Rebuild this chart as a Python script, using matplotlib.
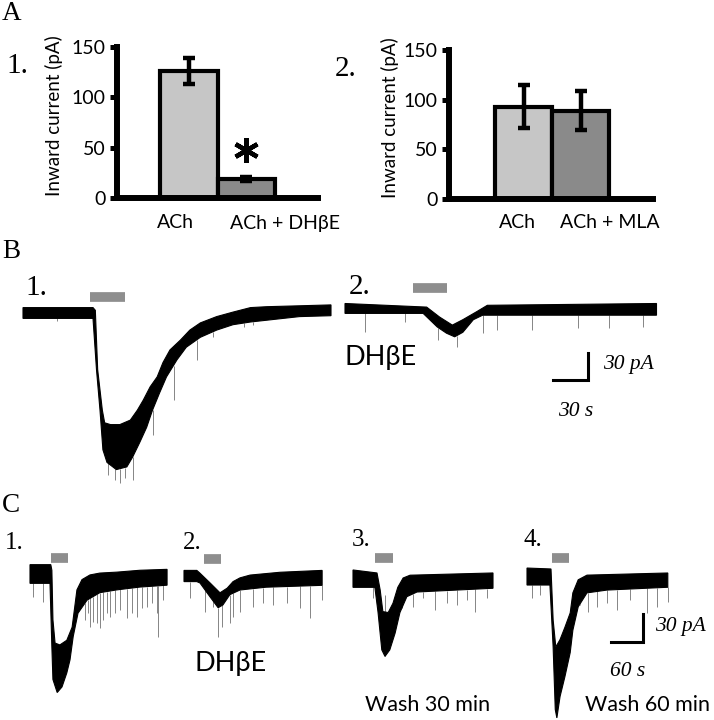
import numpy as np
import matplotlib
matplotlib.use('Agg')
import matplotlib.pyplot as plt

W, H = 714, 720
SERIF = ['Liberation Serif', 'DejaVu Serif']
SANS = ['Lato', 'DejaVu Sans']
LIGHT, DARK, DRUG, SPIKE = '#c6c6c6', '#8a8a8a', '#8e8e8e', '#858585'

# ---- A: peak inward currents (pA), mean +- sem
a1_labels = ['ACh', 'ACh + DHβE']
a1_means = [126, 19]
a1_errs = [13, 2]
a2_labels = ['ACh', 'ACh + MLA']
a2_means = [93, 89]
a2_errs = [22, 20]

# ---- B: traces, envelope of the noisy current (time s, current pA)
b1_up_t = [0, 60, 62, 64, 68, 70, 75, 83, 92, 98, 103, 109, 115, 120, 126, 135, 143, 152, 166, 180, 195, 209, 237, 264]
b1_up_i = [6, 6, 3, -63, -108, -122, -124, -124, -119, -108, -97, -82, -71, -55, -41, -30, -19, -11, -4, 1, 6, 7, 8, 9]
b1_lo_t = [0, 60, 63, 66, 68.5, 72, 80, 89, 94, 100, 106, 111, 117, 123, 132, 140, 152, 166, 180, 195, 209, 237, 264]
b1_lo_i = [-6, -6, -63, -108, -152, -166, -174, -171, -160, -144, -127, -108, -89, -71, -52, -38, -27, -19, -13, -10, -8, -4, -3]
b1_spk_t = [29, 73, 79, 83, 87, 94, 111, 129, 149, 163, 189, 197]
b1_spk_i = [-9, -180, -185, -189, -183, -185, -135, -97, -52, -27, -16, -13]
b1_drug = [57, 87]

b2_up_t = [0, 70, 81, 92, 101, 113, 122, 267]
b2_up_i = [5, 1, -10, -19, -13, -4, 3, 5]
b2_lo_t = [0, 67, 79, 87, 94, 101, 110, 118, 267]
b2_lo_i = [-6, -6, -21, -28, -32, -27, -13, -8, -8]
b2_spk_t = [17, 51, 80, 96, 118, 130, 160, 200, 226, 255]
b2_spk_i = [-27, -16, -36, -43, -28, -24, -24, -22, -22, -21]
b2_drug = [58, 87]

# ---- C: traces
c1_up_t = [0, 39, 41, 43, 47, 56, 69, 79, 88, 97.5, 112.5, 131, 163, 206, 257]
c1_up_i = [10, 10, 4, -49, -74, -76, -71, -57, -17, -6, -1, 1, 2, 4, 5]
c1_lo_t = [0, 37.5, 41, 43, 51, 60, 69, 75, 81, 90, 107, 131, 163, 206, 257]
c1_lo_i = [-10, -10, -78, -113, -127, -121, -106, -92, -67, -42, -28, -20, -17, -14, -12]
c1_spk_t = [5.6, 24, 103, 109, 112.5, 118, 126, 131, 137, 144, 150, 159, 169, 182, 191, 201, 210, 219, 229, 238, 240, 249]
c1_spk_i = [-25, -30, -49, -42, -57, -51, -52, -58, -49, -42, -46, -42, -39, -47, -42, -46, -36, -35, -31, -42, -68, -28]
c1_drug = [39, 71]

c2_up_t = [0, 24, 30, 49, 67.5, 81, 92, 105, 124, 180, 259]
c2_up_i = [6, 6, 3, -7.5, -18, -13, -6, -2, 1, 4, 6]
c2_lo_t = [0, 24, 30, 49, 64, 73, 86, 105, 154, 259]
c2_lo_i = [-6, -6, -7.5, -22.5, -34, -31, -20, -15, -12, -10]
c2_spk_t = [11, 39, 54, 64, 71.5, 86, 92, 105, 129, 148, 167, 193, 217.5, 236, 259]
c2_spk_i = [-23.5, -38.5, -33, -65, -55, -50, -44, -38.5, -33, -29, -31, -29, -34, -45, -26]
c2_drug = [37.5, 69]

c3_up_t = [0, 45, 51, 56, 66, 75, 84, 94, 107, 262.5]
c3_up_i = [8.6, 5.4, -13, -36, -37, -27, -10, 0, 3, 5.4]
c3_lo_t = [0, 41, 47, 54, 60, 69, 79, 88, 101, 120, 262.5]
c3_lo_i = [-10, -10, -37, -77, -84, -77, -59, -37, -20, -15, -11]
c3_spk_t = [37.5, 47, 60, 92, 112.5, 131, 154, 176, 195, 214, 229, 251]
c3_spk_i = [-21, -23.5, -18, -23.5, -31, -21, -34, -27, -29, -23.5, -36, -21]
c3_drug = [41, 75]

c4_up_t = [0, 45, 49, 54, 62, 71, 81, 86, 96, 112.5, 264]
c4_up_i = [9.6, 8.6, -46, -75, -67, -54, -38.5, -17, -3, 2, 4.3]
c4_lo_t = [0, 43, 49, 53, 56, 62, 71, 81, 86, 96, 112.5, 150, 264]
c4_lo_i = [-8.6, -8.6, -75, -142, -151, -128, -107, -81, -57, -32, -17, -14, -11]
c4_spk_t = [9, 24, 99, 114, 131, 150, 169, 193, 225, 244, 264]
c4_spk_i = [-22.5, -19, -30, -37.5, -32, -28, -35, -24.5, -38.5, -32, -27]
c4_drug = [47, 79]

plt.rcParams['font.family'] = SANS
fig = plt.figure(figsize=(W / 100, H / 100), dpi=100)


def px_axes(left, top, right, bottom):
    return fig.add_axes([left / W, 1 - bottom / H, (right - left) / W, (bottom - top) / H])


def label(x, y, s, **kw):
    kw.setdefault('va', 'center')
    kw.setdefault('ha', 'left')
    fig.text(x / W, 1 - y / H, s, **kw)


def bar_panel(box, xlim, means, errs):
    ax = px_axes(*box)
    x = np.arange(1, len(means) + 1)
    ax.bar(x, means, width=1.0, color=[LIGHT, DARK], edgecolor='black', linewidth=3, zorder=2)
    ax.errorbar(x, means, yerr=errs, fmt='none', ecolor='black', elinewidth=3.2,
                capsize=4, capthick=3.2, zorder=3)
    ax.set_xlim(*xlim)
    ax.set_ylim(0, 150)
    ax.set_yticks([0, 50, 100, 150])
    ax.set_xticks([])
    for s in ['top', 'right']:
        ax.spines[s].set_visible(False)
    for s in ['left', 'bottom']:
        ax.spines[s].set_linewidth(4.3)
    ax.tick_params(axis='y', length=5, width=3.6, labelsize=14, pad=3)
    ax.patch.set_visible(False)
    return ax


# scale: (s per px, pA per px)
B_SCALE = (30 / 35, 30 / 27)
C_SCALE = (60 / 32, 30 / 28)


def trace(box, origin, scale, up_t, up_i, lo_t, lo_i, spk_t, spk_i, drug, drug_level):
    left, top, right, bottom = box
    ax = px_axes(*box)
    ox, oy = origin
    sx, sy = scale
    ax.set_xlim((left - ox) * sx, (right - ox) * sx)
    ax.set_ylim((oy - bottom) * sy, (oy - top) * sy)
    ax.axis('off')
    base = np.interp(spk_t, lo_t, lo_i)
    ax.vlines(spk_t, spk_i, base, color=SPIKE, lw=0.7, zorder=1)
    ax.fill(np.r_[up_t, lo_t[::-1]], np.r_[up_i, lo_i[::-1]], fc='black', ec='black', lw=0.8, zorder=2)
    ax.plot(drug, [drug_level, drug_level], color=DRUG, lw=7, solid_capstyle='butt', zorder=3)
    return ax


# ---------------- A
ax1 = bar_panel((117, 47, 318, 198), (-0.25, 3.25), a1_means, a1_errs)
ax1.plot([2], [a1_means[1] + a1_errs[1] + 27], marker=(6, 2, 0), ms=18, mew=3.2, color='black')
ax2 = bar_panel((449, 50, 653, 199), (-0.31, 3.27), a2_means, a2_errs)

label(2, 14, 'A', family=SERIF, fontsize=19.5)
label(6, 66, '1.', family=SERIF, fontsize=21)
label(335, 69, '2.', family=SERIF, fontsize=21)
label(54, 116, 'Inward current (pA)', rotation=90, ha='center', fontsize=13.5)
label(390, 118, 'Inward current (pA)', rotation=90, ha='center', fontsize=13.5)
label(175, 223, a1_labels[0], ha='center', fontsize=14)
label(285, 223, a1_labels[1], ha='center', fontsize=14)
label(517, 223, a2_labels[0], ha='center', fontsize=14)
label(610, 223, a2_labels[1], ha='center', fontsize=14)

# ---------------- B
trace((0, 270, 335, 495), (23, 313), B_SCALE, b1_up_t, b1_up_i, b1_lo_t, b1_lo_i,
      b1_spk_t, b1_spk_i, b1_drug, 18)
axb2 = trace((340, 270, 714, 495), (345, 308), B_SCALE, b2_up_t, b2_up_i, b2_lo_t, b2_lo_i,
             b2_spk_t, b2_spk_i, b2_drug, 22)
axb2.plot([178, 208, 208], [-80, -80, -50], color='black', lw=2.2, solid_joinstyle='miter')

label(2, 252, 'B', family=SERIF, fontsize=19.5)
label(25, 288, '1.', family=SERIF, fontsize=21)
label(349, 287, '2.', family=SERIF, fontsize=21)
label(381, 358, 'DHβE', ha='center', fontsize=19.5)
label(603, 365, '30 pA', family=SERIF, style='italic', fontsize=15.5)
label(558, 412, '30 s', family=SERIF, style='italic', fontsize=15.5)

# ---------------- C
trace((0, 520, 180, 720), (30, 574), C_SCALE, c1_up_t, c1_up_i, c1_lo_t, c1_lo_i,
      c1_spk_t, c1_spk_i, c1_drug, 17)
trace((180, 520, 345, 720), (184, 576), C_SCALE, c2_up_t, c2_up_i, c2_lo_t, c2_lo_i,
      c2_spk_t, c2_spk_i, c2_drug, 18)
trace((345, 520, 520, 720), (353, 578), C_SCALE, c3_up_t, c3_up_i, c3_lo_t, c3_lo_i,
      c3_spk_t, c3_spk_i, c3_drug, 21)
axc4 = trace((520, 520, 714, 720), (527, 577), C_SCALE, c4_up_t, c4_up_i, c4_lo_t, c4_lo_i,
             c4_spk_t, c4_spk_i, c4_drug, 20)
axc4.plot([157.5, 217.5, 217.5], [-70, -70, -40], color='black', lw=2.2, solid_joinstyle='miter')

label(2, 505, 'C', family=SERIF, fontsize=19.5)
label(5, 543, '1.', family=SERIF, fontsize=18)
label(183, 543, '2.', family=SERIF, fontsize=18)
label(352, 540, '3.', family=SERIF, fontsize=18)
label(524, 540, '4.', family=SERIF, fontsize=18)
label(231, 663, 'DHβE', ha='center', fontsize=19.5)
label(655, 626, '30 pA', family=SERIF, style='italic', fontsize=15.5)
label(610, 672, '60 s', family=SERIF, style='italic', fontsize=15.5)
label(365, 705, 'Wash 30 min', fontsize=15.5)
label(585, 705, 'Wash 60 min', fontsize=15.5)

fig.savefig('out.png', dpi=100)
